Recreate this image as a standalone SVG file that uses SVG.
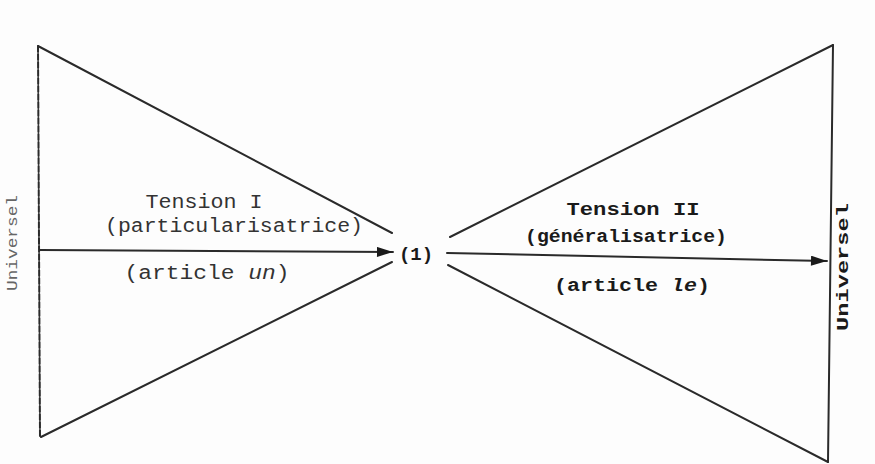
<svg xmlns="http://www.w3.org/2000/svg" width="875" height="464" viewBox="0 0 875 464">
<defs>
<style>
.ln{stroke:#2a2a2a;stroke-width:2;fill:none;stroke-linecap:round}
.t{font-family:"Liberation Mono","DejaVu Sans Mono",monospace;text-anchor:middle}
.l{fill:#333;font-size:20px}
.r{fill:#1a1a1a;font-size:19px;font-weight:bold}
</style>
<marker id="ah" viewBox="0 0 16 10" refX="16" refY="5" markerWidth="17" markerHeight="10" orient="auto" markerUnits="userSpaceOnUse">
<path d="M0,0 L16,5 L0,10 z" fill="#1a1a1a"/>
</marker>
</defs>
<rect width="875" height="464" fill="#fdfdfd"/>
<g id="left-triangle">
<line class="ln" x1="38" y1="46" x2="40" y2="436" stroke-dasharray="6 2"/>
<line class="ln" x1="38" y1="46" x2="392" y2="233"/>
<line class="ln" x1="41" y1="437" x2="392" y2="262"/>
<text class="t" x="0" y="0" transform="translate(17,243) rotate(-90)" fill="#666" font-size="15" textLength="96" lengthAdjust="spacingAndGlyphs">Universel</text>
<text class="t l" x="204" y="208" textLength="117" lengthAdjust="spacingAndGlyphs">Tension I</text>
<text class="t l" x="234" y="232" textLength="258" lengthAdjust="spacingAndGlyphs">(particularisatrice)</text>
<text class="t l" x="207" y="279" textLength="165" lengthAdjust="spacingAndGlyphs">(article <tspan font-style="italic">un</tspan>)</text>
</g>
<g id="center">
<text class="t" x="416" y="260" fill="#1a1a1a" font-size="19" font-weight="bold">(1)</text>
</g>
<g id="right-triangle">
<line class="ln" x1="833" y1="45" x2="828" y2="462"/>
<line class="ln" x1="833" y1="45" x2="450" y2="237"/>
<line class="ln" x1="448" y1="265" x2="828" y2="462"/>
<text class="t" x="0" y="0" transform="translate(848,267) rotate(-90)" fill="#1a1a1a" font-size="17" font-weight="bold" textLength="128" lengthAdjust="spacingAndGlyphs">Universel</text>
<text class="t r" x="633" y="215" textLength="133" lengthAdjust="spacingAndGlyphs">Tension II</text>
<text class="t r" x="626" y="242" textLength="202" lengthAdjust="spacingAndGlyphs">(généralisatrice)</text>
<text class="t r" x="632" y="291" textLength="156" lengthAdjust="spacingAndGlyphs">(article <tspan font-style="italic">le</tspan>)</text>
</g>
<g id="connectors">
<line class="ln" x1="40" y1="250" x2="393" y2="252" marker-end="url(#ah)"/>
<line class="ln" x1="447" y1="253" x2="827" y2="261" marker-end="url(#ah)"/>
</g>
</svg>
